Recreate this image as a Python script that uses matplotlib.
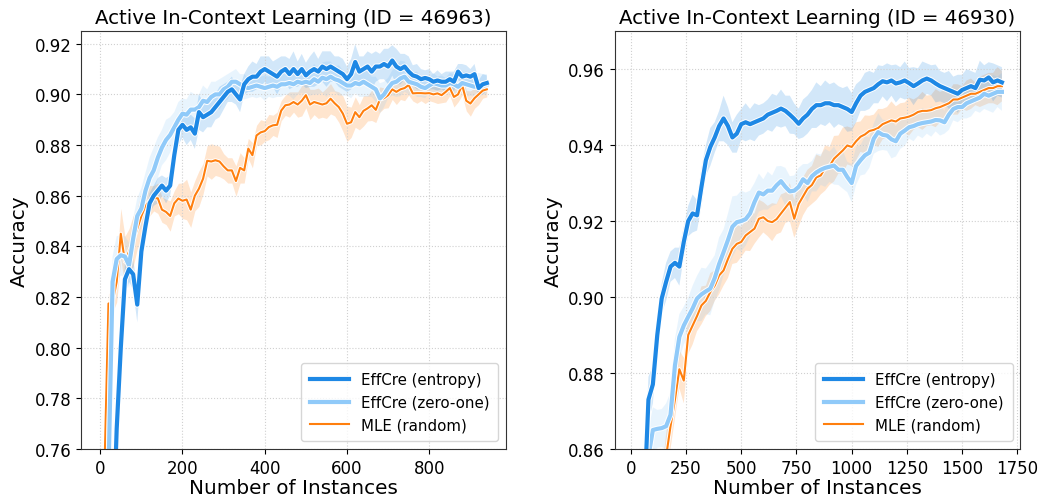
import numpy as np
import matplotlib
matplotlib.use("Agg")
import matplotlib.pyplot as plt
import matplotlib.patheffects as pe

# ---- dataset 46963 (left) ----
x_a = np.arange(10, 950, 10)

ent_a = [0.700, 0.700, 0.720, 0.768, 0.800, 0.827, 0.831, 0.829, 0.817, 0.838,
         0.848, 0.857, 0.860, 0.862, 0.864, 0.862, 0.864, 0.876, 0.886, 0.888,
         0.886, 0.887, 0.8845, 0.893, 0.891, 0.892, 0.893, 0.895, 0.897, 0.899,
         0.901, 0.902, 0.900, 0.898, 0.904, 0.906, 0.907, 0.907, 0.909, 0.910,
         0.909, 0.908, 0.907, 0.909, 0.910, 0.908, 0.910, 0.908, 0.910, 0.9075,
         0.909, 0.910, 0.909, 0.911, 0.910, 0.911, 0.910, 0.909, 0.908, 0.906,
         0.908, 0.9128, 0.909, 0.910, 0.911, 0.909, 0.911, 0.911, 0.912, 0.911,
         0.9134, 0.911, 0.910, 0.911, 0.909, 0.9075, 0.907, 0.906, 0.9065, 0.906,
         0.905, 0.9055, 0.905, 0.905, 0.906, 0.905, 0.909, 0.907, 0.9075, 0.907,
         0.908, 0.9025, 0.904, 0.9045]
ent_a_sd = [0.012, 0.012, 0.010, 0.010, 0.008, 0.006, 0.005, 0.006, 0.007, 0.006,
            0.005, 0.004, 0.004, 0.005, 0.004, 0.005, 0.004, 0.005, 0.006, 0.005,
            0.006, 0.005, 0.006, 0.007, 0.006, 0.005, 0.006, 0.005, 0.006, 0.005,
            0.004, 0.005, 0.004, 0.005, 0.004, 0.005, 0.006, 0.005, 0.006, 0.005,
            0.006, 0.005, 0.007, 0.006, 0.005, 0.006, 0.007, 0.005, 0.006, 0.005,
            0.006, 0.007, 0.005, 0.006, 0.007, 0.006, 0.005, 0.006, 0.006, 0.005,
            0.006, 0.007, 0.006, 0.005, 0.006, 0.007, 0.006, 0.005, 0.006, 0.007,
            0.006, 0.007, 0.006, 0.005, 0.006, 0.004, 0.005, 0.004, 0.003, 0.004,
            0.003, 0.004, 0.003, 0.004, 0.003, 0.004, 0.003, 0.005, 0.004, 0.003,
            0.004, 0.003, 0.004, 0.003]

zo_a = [0.700, 0.750, 0.826, 0.835, 0.8365, 0.836, 0.8325, 0.843, 0.852, 0.855,
        0.862, 0.867, 0.870, 0.875, 0.879, 0.882, 0.884, 0.887, 0.890, 0.8924,
        0.892, 0.894, 0.894, 0.895, 0.8975, 0.897, 0.899, 0.900, 0.900, 0.902,
        0.903, 0.905, 0.905, 0.904, 0.903, 0.9025, 0.903, 0.9035, 0.903, 0.9025,
        0.903, 0.9035, 0.903, 0.904, 0.904, 0.9045, 0.904, 0.905, 0.9045, 0.905,
        0.9045, 0.906, 0.905, 0.9066, 0.906, 0.907, 0.906, 0.9055, 0.9045, 0.9035,
        0.9035, 0.9045, 0.904, 0.905, 0.904, 0.903, 0.902, 0.8984, 0.900, 0.9025,
        0.9045, 0.905, 0.9063, 0.907, 0.905, 0.9045, 0.904, 0.903, 0.9025, 0.9035,
        0.9045, 0.904, 0.9035, 0.9035, 0.9045, 0.904, 0.903, 0.9045, 0.904, 0.9035,
        0.903, 0.9035, 0.904, 0.904]
zo_a_sd = [0.012, 0.012, 0.010, 0.009, 0.008, 0.008, 0.009, 0.008, 0.007, 0.008,
           0.007, 0.008, 0.009, 0.008, 0.007, 0.008, 0.007, 0.006, 0.007, 0.006,
           0.006, 0.007, 0.006, 0.005, 0.006, 0.005, 0.006, 0.005, 0.006, 0.005,
           0.005, 0.004, 0.005, 0.004, 0.005, 0.004, 0.004, 0.005, 0.004, 0.005,
           0.004, 0.005, 0.004, 0.005, 0.004, 0.005, 0.006, 0.005, 0.004, 0.005,
           0.005, 0.006, 0.005, 0.006, 0.007, 0.006, 0.005, 0.006, 0.005, 0.004,
           0.005, 0.004, 0.005, 0.006, 0.005, 0.004, 0.005, 0.006, 0.005, 0.004,
           0.005, 0.006, 0.007, 0.006, 0.005, 0.004, 0.005, 0.004, 0.004, 0.003,
           0.004, 0.003, 0.004, 0.003, 0.004, 0.004, 0.003, 0.004, 0.005, 0.004,
           0.004, 0.005, 0.004, 0.004]

mle_a = [0.750, 0.8174, 0.818, 0.826, 0.845, 0.834, 0.838, 0.842, 0.847, 0.852,
         0.856, 0.858, 0.859, 0.859, 0.8545, 0.8536, 0.852, 0.857, 0.8589, 0.858,
         0.8585, 0.8545, 0.860, 0.8628, 0.8667, 0.8738, 0.8735, 0.874, 0.8735, 0.8716,
         0.870, 0.870, 0.8658, 0.871, 0.870, 0.8786, 0.876, 0.8838, 0.885, 0.8855,
         0.8871, 0.8878, 0.888, 0.8936, 0.8957, 0.896, 0.897, 0.896, 0.8975, 0.8997,
         0.896, 0.897, 0.8965, 0.896, 0.8965, 0.8983, 0.8965, 0.895, 0.8924, 0.8884,
         0.889, 0.893, 0.891, 0.8935, 0.8945, 0.8957, 0.8939, 0.898, 0.8985, 0.8997,
         0.902, 0.901, 0.902, 0.9025, 0.9037, 0.9004, 0.9005, 0.9005, 0.9004, 0.9005,
         0.900, 0.9004, 0.8997, 0.901, 0.9025, 0.899, 0.900, 0.9037, 0.8975, 0.8964,
         0.8985, 0.900, 0.9015, 0.902]
mle_a_sd = [0.006, 0.004, 0.004, 0.008, 0.010, 0.010, 0.009, 0.010, 0.008, 0.009,
            0.007, 0.006, 0.005, 0.006, 0.005, 0.005, 0.006, 0.005, 0.006, 0.007,
            0.008, 0.007, 0.006, 0.007, 0.006, 0.006, 0.007, 0.006, 0.006, 0.005,
            0.005, 0.005, 0.006, 0.006, 0.005, 0.004, 0.005, 0.004, 0.005, 0.004,
            0.005, 0.004, 0.005, 0.004, 0.004, 0.005, 0.004, 0.005, 0.006, 0.005,
            0.006, 0.005, 0.006, 0.005, 0.006, 0.006, 0.005, 0.006, 0.007, 0.007,
            0.006, 0.006, 0.005, 0.006, 0.005, 0.006, 0.005, 0.005, 0.004, 0.005,
            0.004, 0.005, 0.004, 0.005, 0.004, 0.003, 0.004, 0.003, 0.004, 0.003,
            0.003, 0.004, 0.003, 0.004, 0.003, 0.004, 0.003, 0.004, 0.004, 0.005,
            0.004, 0.004, 0.003, 0.003]

# ---- dataset 46930 (right) ----
x_b = np.arange(20, 1700, 20)

ent_b = [0.800, 0.820, 0.845, 0.873, 0.877, 0.890, 0.8996, 0.904, 0.908, 0.909,
         0.908, 0.9145, 0.920, 0.922, 0.9215, 0.929, 0.936, 0.9395, 0.942, 0.945,
         0.947, 0.945, 0.942, 0.943, 0.9455, 0.946, 0.9455, 0.946, 0.9465, 0.947,
         0.948, 0.9485, 0.949, 0.9496, 0.949, 0.948, 0.9469, 0.9456, 0.947, 0.948,
         0.9495, 0.9505, 0.9505, 0.951, 0.951, 0.9505, 0.9505, 0.950, 0.9495, 0.9487,
         0.951, 0.953, 0.954, 0.9545, 0.955, 0.956, 0.9568, 0.9565, 0.957, 0.9562,
         0.9565, 0.957, 0.9563, 0.9555, 0.9562, 0.957, 0.9575, 0.957, 0.9562, 0.9555,
         0.955, 0.9545, 0.954, 0.9535, 0.9545, 0.955, 0.9555, 0.955, 0.9572, 0.957,
         0.9578, 0.9565, 0.957, 0.9565]
ent_b_sd = [0.008, 0.008, 0.007, 0.006, 0.005, 0.004, 0.004, 0.005, 0.004, 0.004,
            0.005, 0.004, 0.004, 0.005, 0.004, 0.005, 0.004, 0.005, 0.004, 0.004,
            0.006, 0.005, 0.004, 0.005, 0.004, 0.005, 0.004, 0.005, 0.004, 0.004,
            0.004, 0.005, 0.004, 0.005, 0.004, 0.005, 0.004, 0.004, 0.005, 0.005,
            0.005, 0.006, 0.005, 0.006, 0.005, 0.006, 0.005, 0.005, 0.006, 0.005,
            0.005, 0.004, 0.005, 0.005, 0.004, 0.005, 0.004, 0.005, 0.004, 0.005,
            0.004, 0.005, 0.004, 0.005, 0.004, 0.005, 0.004, 0.004, 0.005, 0.004,
            0.004, 0.005, 0.004, 0.005, 0.004, 0.005, 0.004, 0.004, 0.005, 0.004,
            0.004, 0.005, 0.004, 0.004]

zo_b = [0.800, 0.820, 0.840, 0.858, 0.865, 0.8653, 0.8655, 0.866, 0.869, 0.882,
        0.8895, 0.8925, 0.8948, 0.897, 0.8996, 0.9007, 0.9015, 0.9022, 0.905, 0.9087,
        0.9118, 0.915, 0.9185, 0.9197, 0.920, 0.9205, 0.922, 0.925, 0.9275, 0.927,
        0.928, 0.928, 0.9294, 0.9305, 0.929, 0.9278, 0.928, 0.929, 0.931, 0.930,
        0.9318, 0.9328, 0.9335, 0.934, 0.9343, 0.9346, 0.9335, 0.9335, 0.9316, 0.930,
        0.9345, 0.936, 0.9373, 0.938, 0.9417, 0.9434, 0.9427, 0.9425, 0.9415, 0.941,
        0.943, 0.9438, 0.9447, 0.945, 0.9455, 0.9458, 0.946, 0.9462, 0.9466, 0.9465,
        0.946, 0.948, 0.9495, 0.950, 0.950, 0.951, 0.9515, 0.952, 0.9525, 0.9535,
        0.953, 0.9535, 0.954, 0.954]
zo_b_sd = [0.008, 0.008, 0.008, 0.007, 0.006, 0.005, 0.005, 0.006, 0.006, 0.007,
           0.006, 0.005, 0.005, 0.006, 0.006, 0.007, 0.006, 0.007, 0.006, 0.007,
           0.006, 0.007, 0.008, 0.007, 0.008, 0.007, 0.006, 0.005, 0.005, 0.004,
           0.005, 0.004, 0.005, 0.004, 0.005, 0.004, 0.004, 0.005, 0.004, 0.005,
           0.004, 0.005, 0.004, 0.005, 0.004, 0.005, 0.004, 0.005, 0.004, 0.005,
           0.005, 0.004, 0.005, 0.004, 0.004, 0.005, 0.004, 0.004, 0.005, 0.004,
           0.004, 0.004, 0.003, 0.004, 0.003, 0.004, 0.003, 0.004, 0.003, 0.004,
           0.003, 0.004, 0.003, 0.004, 0.003, 0.004, 0.004, 0.003, 0.004, 0.004,
           0.004, 0.005, 0.004, 0.005]

mle_b = [0.760, 0.780, 0.800, 0.815, 0.830, 0.840, 0.848, 0.858, 0.866, 0.873,
         0.881, 0.878, 0.890, 0.8925, 0.895, 0.8978, 0.899, 0.9013, 0.903, 0.9057,
         0.907, 0.910, 0.9127, 0.914, 0.9145, 0.9162, 0.9171, 0.918, 0.9206, 0.921,
         0.920, 0.9197, 0.9205, 0.922, 0.9235, 0.925, 0.9206, 0.9245, 0.9265, 0.9285,
         0.9295, 0.9315, 0.932, 0.934, 0.9345, 0.9364, 0.9375, 0.9386, 0.9399, 0.9395,
         0.941, 0.9422, 0.9428, 0.9437, 0.944, 0.9445, 0.9455, 0.946, 0.9465, 0.9462,
         0.947, 0.9472, 0.9475, 0.948, 0.9487, 0.949, 0.949, 0.9492, 0.9497, 0.950,
         0.9505, 0.951, 0.952, 0.952, 0.9525, 0.953, 0.9535, 0.9535, 0.954, 0.9545,
         0.955, 0.955, 0.9555, 0.9555]
mle_b_sd = [0.004, 0.004, 0.004, 0.004, 0.004, 0.004, 0.005, 0.006, 0.006, 0.005,
            0.005, 0.006, 0.005, 0.005, 0.004, 0.005, 0.004, 0.005, 0.004, 0.005,
            0.004, 0.005, 0.004, 0.005, 0.004, 0.004, 0.005, 0.004, 0.005, 0.004,
            0.004, 0.005, 0.004, 0.005, 0.004, 0.005, 0.005, 0.006, 0.005, 0.005,
            0.005, 0.006, 0.005, 0.006, 0.005, 0.006, 0.005, 0.006, 0.005, 0.005,
            0.005, 0.004, 0.005, 0.004, 0.004, 0.005, 0.004, 0.004, 0.005, 0.004,
            0.004, 0.004, 0.005, 0.004, 0.004, 0.005, 0.004, 0.004, 0.005, 0.004,
            0.004, 0.003, 0.004, 0.004, 0.003, 0.004, 0.004, 0.003, 0.004, 0.004,
            0.004, 0.004, 0.005, 0.004]

labels = ["EffCre (entropy)", "EffCre (zero-one)", "MLE (random)"]
colors = ["#1E88E5", "#90CAF9", "#FF7F0E"]
widths = [3.0, 3.0, 1.5]

panels = [
    ("Active In-Context Learning (ID = 46963)", x_a,
     [(ent_a, ent_a_sd), (zo_a, zo_a_sd), (mle_a, mle_a_sd)],
     (0.76, 0.925), [0.76, 0.78, 0.80, 0.82, 0.84, 0.86, 0.88, 0.90, 0.92],
     [0, 200, 400, 600, 800], [0.078, 0.1036, 0.4085, 0.8325]),
    ("Active In-Context Learning (ID = 46930)", x_b,
     [(ent_b, ent_b_sd), (zo_b, zo_b_sd), (mle_b, mle_b_sd)],
     (0.86, 0.97), [0.86, 0.88, 0.90, 0.92, 0.94, 0.96],
     [0, 250, 500, 750, 1000, 1250, 1500, 1750], [0.591, 0.1036, 0.390, 0.8325]),
]

fig = plt.figure(figsize=(10.4, 5.02), dpi=100)

for title, xs, series, ylim, yticks, xticks, rect in panels:
    ax = fig.add_axes(rect)
    # draw MLE first so the EffCre curves sit on top
    for i in [2, 1, 0]:
        m = np.array(series[i][0])
        s = np.array(series[i][1])
        ax.fill_between(xs, m - s, m + s, color=colors[i], alpha=0.2, linewidth=0)
        ax.plot(xs, m, color=colors[i], lw=widths[i], label=labels[i],
                path_effects=[pe.Stroke(linewidth=widths[i] + 1.4, foreground="white"),
                              pe.Normal()])
    ax.set_ylim(*ylim)
    ax.set_yticks(yticks)
    ax.set_yticklabels(["%.2f" % v for v in yticks])
    ax.set_xticks(xticks)
    ax.set_xlim(xs[0] - 0.05 * (xs[-1] - xs[0]) - 10, xs[-1] + 0.05 * (xs[-1] - xs[0]))
    ax.tick_params(labelsize=12)
    ax.grid(True, linestyle=":", color="#d0d0d0", linewidth=0.8)
    ax.set_title(title, fontsize=14.2)
    ax.set_xlabel("Number of Instances", fontsize=14.4, labelpad=1)
    ax.set_ylabel("Accuracy", fontsize=14.4)
    for sp in ax.spines.values():
        sp.set_color("#333333")
    h, l = ax.get_legend_handles_labels()
    ax.legend(h[::-1], l[::-1], loc="lower right", fontsize=10.8,
              handlelength=2.6, borderpad=0.6, labelspacing=0.5)

fig.savefig("out.png", dpi=100)
